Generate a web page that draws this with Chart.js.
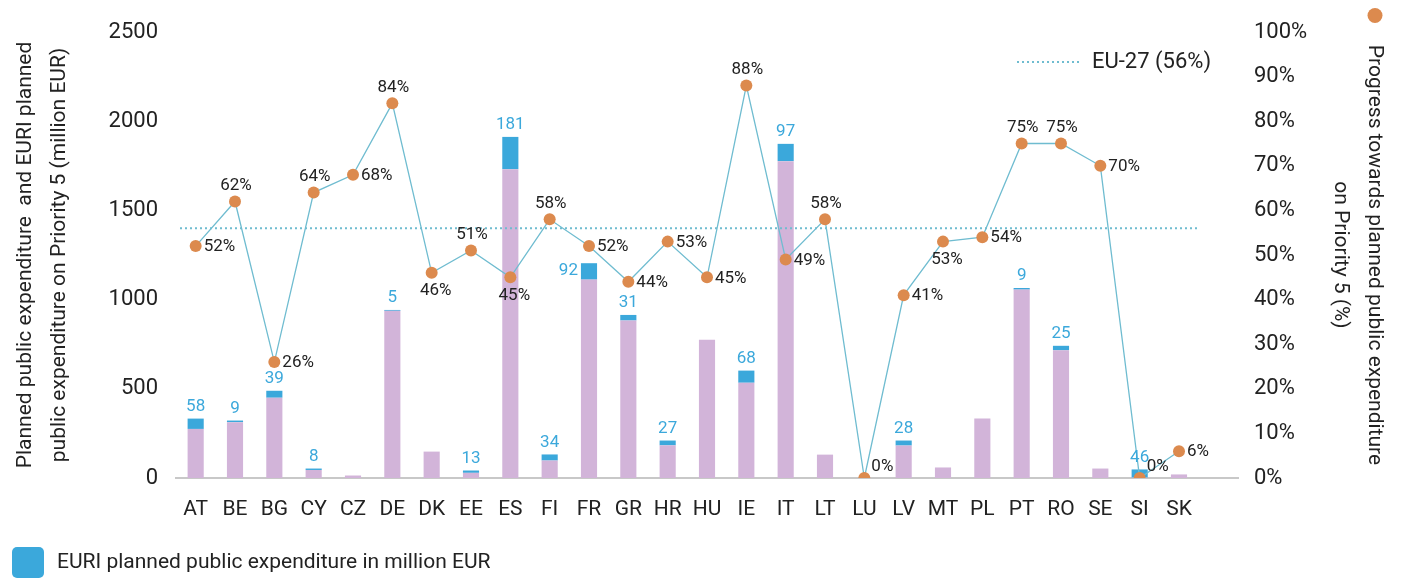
<!DOCTYPE html>
<html lang="en">
<head>
    <meta charset="UTF-8">
    <title>Priority 5 planned public expenditure</title>
    <script src="https://cdn.jsdelivr.net/npm/chart.js@4.4.1/dist/chart.umd.min.js"></script>
    <style>
        body { margin: 0; background: #fff; }
    </style>
</head>
<body>
    <canvas id="chart" width="1403" height="581"></canvas>

<script>
// ---------- data ----------
const countries = ['AT','BE','BG','CY','CZ','DE','DK','EE','ES','FI','FR','GR','HR',
                   'HU','IE','IT','LT','LU','LV','MT','PL','PT','RO','SE','SI','SK'];

// planned public expenditure on Priority 5 without EURI, million EUR (purple)
const plannedNoEuri = [275, 313, 450, 45, 14, 937, 148, 29, 1731, 98, 1112, 883, 183,
                       775, 534, 1776, 131, 0, 182, 59, 333, 1056, 716, 53, 2, 20];

// EURI planned public expenditure, million EUR (blue)
const euriPlanned = [58, 9, 39, 8, 0, 5, 0, 13, 181, 34, 92, 31, 27,
                     0, 68, 97, 0, 0, 28, 0, 0, 9, 25, 0, 46, 0];

// progress towards planned public expenditure on Priority 5 (%)
const progressPct = [52, 62, 26, 64, 68, 84, 46, 51, 45, 58, 52, 44, 53,
                     45, 88, 49, 58, 0, 41, 53, 54, 75, 75, 70, 0, 6];

const eu27Pct = 56;

const leftTicks = [0, 500, 1000, 1500, 2000, 2500];

// where each % label sits around its dot
const pctLabelPos = ['right','above','right','above','right','above','below','above','below','above','right','right','right',
                     'right','above','right','above','upright','right','below','right','above','above','right','upright','right'];
// where each EURI label sits around its bar
const euriLabelPos = countries.map(c => c === 'FR' ? 'left' : 'above');

// ---------- styling ----------
const FONT = 'Roboto, "Liberation Sans", sans-serif';
const TXT = '#222';
const PURPLE = '#D2B4D9';
const BLUE = '#3BA8DB';
const ORANGE = '#DC8A4E';
const TEAL = '#6FBCD0';

// one empty slot at the end, as in the source chart
const labels = countries.concat(['']);

const overlay = {
    id: 'overlay',
    afterDatasetsDraw(chart) {
        const ctx = chart.ctx;
        const x = chart.scales.x, y1 = chart.scales.y1;
        const step = (x.right - x.left) / labels.length;

        // EU-27 reference line
        const yEu = y1.getPixelForValue(eu27Pct);
        ctx.save();
        ctx.strokeStyle = TEAL;
        ctx.lineWidth = 2;
        ctx.setLineDash([2, 3]);
        ctx.beginPath();
        ctx.moveTo(x.getPixelForValue(0) - step / 2 + 4, yEu);
        ctx.lineTo(x.getPixelForValue(countries.length - 1) + step / 2, yEu);
        ctx.stroke();
        ctx.restore();

        // % labels next to the dots
        const lineMeta = chart.getDatasetMeta(0);
        ctx.save();
        ctx.font = '17px ' + FONT;
        ctx.fillStyle = TXT;
        lineMeta.data.forEach((pt, i) => {
            if (i >= countries.length) return;
            const t = progressPct[i] + '%';
            const p = pctLabelPos[i];
            ctx.textBaseline = 'middle';
            if (p === 'right') { ctx.textAlign = 'left'; ctx.fillText(t, pt.x + 8, pt.y + 1); }
            else if (p === 'above') { ctx.textAlign = 'center'; ctx.fillText(t, pt.x + 1, pt.y - 16); }
            else if (p === 'below') { ctx.textAlign = 'center'; ctx.fillText(t, pt.x + 4, pt.y + 18); }
            else if (p === 'upright') { ctx.textAlign = 'left'; ctx.fillText(t, pt.x + 7, pt.y - 11); }
        });
        ctx.restore();

        // EURI values on the bars
        const euriMeta = chart.getDatasetMeta(2);
        ctx.save();
        ctx.font = '17px ' + FONT;
        ctx.fillStyle = BLUE;
        ctx.textBaseline = 'middle';
        euriMeta.data.forEach((bar, i) => {
            if (i >= countries.length || !euriPlanned[i]) return;
            const t = String(euriPlanned[i]);
            if (euriLabelPos[i] === 'left') {
                ctx.textAlign = 'right';
                ctx.fillText(t, bar.x - bar.width / 2 - 3, bar.y + 8);
            } else {
                ctx.textAlign = 'center';
                ctx.fillText(t, bar.x, bar.y - 12);
            }
        });
        ctx.restore();
    },
    afterDraw(chart) {
        const ctx = chart.ctx;
        ctx.save();
        // EU-27 legend
        ctx.strokeStyle = TEAL;
        ctx.lineWidth = 2;
        ctx.setLineDash([2, 3]);
        ctx.beginPath();
        ctx.moveTo(1017, 62);
        ctx.lineTo(1080, 62);
        ctx.stroke();
        ctx.setLineDash([]);
        ctx.font = '22px ' + FONT;
        ctx.fillStyle = TXT;
        ctx.textAlign = 'left';
        ctx.textBaseline = 'middle';
        ctx.fillText('EU-27 (' + eu27Pct + '%)', 1092, 62);

        // marker of the progress series, above the right title
        ctx.fillStyle = ORANGE;
        ctx.beginPath();
        ctx.arc(1375, 15.5, 7.5, 0, Math.PI * 2);
        ctx.fill();

        // EURI legend at the bottom
        ctx.fillStyle = BLUE;
        ctx.beginPath();
        ctx.roundRect(12, 547, 32, 31, 5);
        ctx.fill();
        ctx.fillStyle = TXT;
        ctx.font = '21px ' + FONT;
        ctx.fillText('EURI planned public expenditure in million EUR', 57, 563);
        ctx.restore();
    }
};

new Chart(document.getElementById('chart'), {
    data: {
        labels: labels,
        datasets: [
            {
                type: 'line',
                label: 'Progress towards planned public expenditure on Priority 5 (%)',
                data: progressPct,
                yAxisID: 'y1',
                borderColor: TEAL,
                borderWidth: 1.3,
                pointRadius: 6,
                pointBackgroundColor: ORANGE,
                pointBorderWidth: 0,
                tension: 0,
                order: 0
            },
            {
                type: 'bar',
                label: 'Planned public expenditure',
                data: plannedNoEuri,
                yAxisID: 'y',
                backgroundColor: PURPLE,
                stack: 's',
                barPercentage: 0.41,
                categoryPercentage: 1,
                order: 1
            },
            {
                type: 'bar',
                label: 'EURI planned public expenditure in million EUR',
                data: euriPlanned,
                yAxisID: 'y',
                backgroundColor: BLUE,
                stack: 's',
                barPercentage: 0.41,
                categoryPercentage: 1,
                order: 1
            }
        ]
    },
    options: {
        responsive: false,
        animation: false,
        devicePixelRatio: 1,
        layout: { padding: { top: 32, left: 0, right: 0, bottom: 0 } },
        plugins: { legend: { display: false }, tooltip: { enabled: false } },
        scales: {
            x: {
                stacked: true,
                grid: { display: false, drawTicks: false },
                border: { display: true, color: '#C8C8C8', width: 2 },
                ticks: { font: { family: FONT, size: 21 }, color: TXT, padding: 19, maxRotation: 0, autoSkip: false },
                afterFit: s => { s.height = 103; }
            },
            y: {
                position: 'left',
                stacked: true,
                min: 0,
                max: 2500,
                afterBuildTicks: s => { s.ticks = leftTicks.map(v => ({ value: v })); },
                grid: { display: false, drawTicks: false },
                border: { display: false },
                ticks: { font: { family: FONT, size: 22 }, color: TXT, padding: 18,
                         callback: v => String(v) },
                title: {
                    display: true,
                    text: ['Planned public expenditure  and EURI planned',
                           'public expenditure on Priority 5 (million EUR)'],
                    font: { family: FONT, size: 21, lineHeight: 1.65 },
                    color: TXT,
                    padding: { top: 8, bottom: 0 }
                },
                afterFit: s => { s.width = 176; }
            },
            y1: {
                position: 'right',
                min: 0,
                max: 100,
                grid: { display: false, drawTicks: false },
                border: { display: false },
                ticks: { stepSize: 10, font: { family: FONT, size: 22 }, color: TXT, padding: 16,
                         callback: v => v + '%' },
                title: {
                    display: true,
                    text: ['Progress towards planned public expenditure',
                           'on Priority 5 (%)'],
                    font: { family: FONT, size: 21, lineHeight: 1.6 },
                    color: TXT,
                    padding: { top: 12, bottom: 0 }
                },
                afterFit: s => { s.width = 165; }
            }
        }
    },
    plugins: [overlay]
});
</script>
</body>
</html>
